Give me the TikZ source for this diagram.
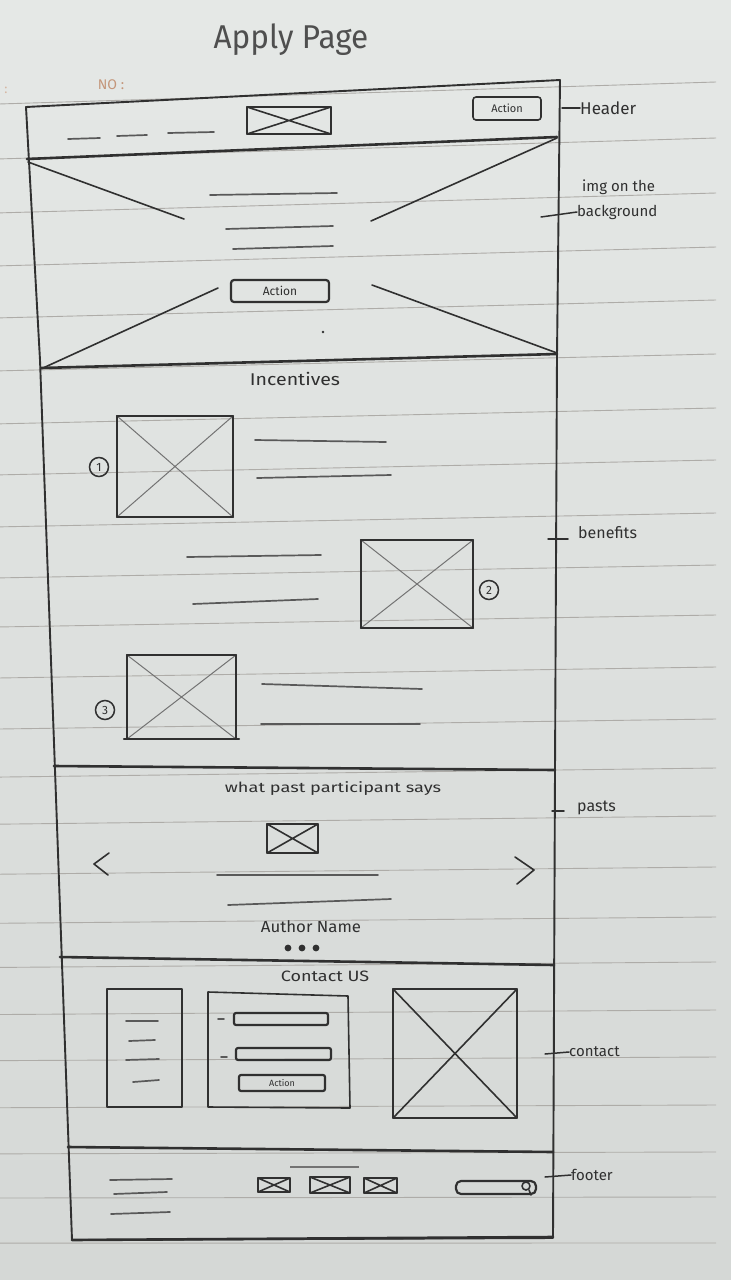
\documentclass[tikz,border=0pt]{standalone}
\usepackage{fontspec}
\setmainfont{Fira Sans}
\usepackage{graphicx}

\definecolor{paperTop}{RGB}{229,232,230}
\definecolor{paperBot}{RGB}{213,216,214}
\definecolor{pencil}{RGB}{48,48,48}
\definecolor{softpencil}{RGB}{115,115,115}
\definecolor{ruling}{RGB}{174,172,168}
\definecolor{notebrown}{RGB}{196,150,122}

\tikzset{
  frame/.style={draw=pencil, line width=1.9pt, line cap=round, line join=round},
  divider/.style={draw=pencil, line width=2.6pt, line cap=round},
  sketch/.style={draw=pencil, line width=1.6pt, line cap=round, line join=round},
  heavy/.style={draw=pencil, line width=2.2pt, line cap=round, line join=round},
  textline/.style={draw=pencil!80, line width=1.7pt, line cap=round},
  cross/.style={draw=softpencil, line width=1pt},
  rule/.style={draw=ruling, line width=0.9pt},
  hand/.style={text=pencil, inner sep=0pt, font=\fontsize{#1}{#1}\selectfont},
  numbered/.style={draw=pencil, circle, line width=1.5pt, minimum size=19pt,
                   inner sep=0pt, text=pencil, font=\fontsize{12}{12}\selectfont},
  labeltick/.style={draw=pencil, line width=1.5pt, line cap=round},
}

% wireframe image placeholder: box with a cross
\newcommand\wfimage[5]{%
  \draw[#5] (#1,#2) -- (#3,#4) (#1,#4) -- (#3,#2);
  \draw[sketch] (#1,#2) rectangle (#3,#4);}

\begin{document}
\begin{tikzpicture}[x=1pt,y=-1pt]
\useasboundingbox (0,0) rectangle (731,1280);

% notebook paper
\shade[top color=paperTop, bottom color=paperBot] (0,0) rectangle (731,1280);
\foreach \y in {82,138,193,247,300,354,408,460,513,565,615,667,719,768,816,867,917,962,1010,1057,1105,1152,1197,1243}{
  \pgfmathsetmacro\tilt{22*(1-(\y-80)/1170)}
  \draw[rule] (0,\y+\tilt) -- (716,\y);
}
\node[text=notebrown, inner sep=0pt, font=\fontsize{14}{14}\selectfont] (no) at (111,85) {NO :};
\node[text=notebrown!70, inner sep=0pt, font=\fontsize{13}{13}\selectfont] (colon) at (6,90) {:};

% title
\node[hand=30, text=pencil!85] (title) at (291,40) {\scalebox{1.05}[1.1]{Apply Page}};

% page outline
\draw[frame] (26,107) -- (560,80) -- (557,355) -- (555,770) -- (553,1238)
  -- (72,1240) -- (55,770) -- (40,360) -- cycle;

% section dividers
\draw[divider] (27,159) -- (557,137);
\draw[divider] (41,368) -- (557,354);
\draw[divider] (54,766) -- (555,770);
\draw[divider] (60,957) -- (554,965);
\draw[divider] (68,1147) -- (553,1152);
\draw[divider] (72,1240) -- (553,1237);

% ---- header
\draw[textline] (68,139) -- (100,138);
\draw[textline] (117,136) -- (147,135);
\draw[textline] (168,133) -- (214,132);
\wfimage{247}{107}{331}{134}{sketch}
\draw[sketch, rounded corners=3pt] (473,97) rectangle (541,120);
\node[hand=11] (hdrbtn) at (507,108.5) {Action};

% ---- hero image
\draw[sketch] (28,162) -- (184,219);
\draw[sketch] (557,138) -- (371,221);
\draw[sketch] (43,368) -- (218,288);
\draw[sketch] (372,285) -- (557,353);
\draw[textline] (210,195) -- (337,193);
\draw[textline] (226,229) -- (333,226);
\draw[textline] (233,249) -- (333,246);
\draw[heavy, rounded corners=3pt] (231,280) rectangle (329,302);
\node[hand=12] (herobtn) at (280,291) {Action};
\fill[pencil] (323,332) circle (1.3);

% ---- benefits
\node[hand=17] (incent) at (295,379) {\scalebox{1.15}[1]{Incentives}};

\wfimage{117}{416}{233}{517}{cross}
\draw[heavy] (117,416) -- (233,416) (117,517) -- (233,517);
\node[numbered] (n1) at (99,467) {1};
\draw[textline] (255,440) -- (386,442);
\draw[textline] (257,478) -- (391,475);

\draw[textline] (187,557) -- (321,555);
\draw[textline] (193,604) -- (318,599);
\wfimage{361}{540}{473}{628}{cross}
\draw[heavy] (361,540) -- (473,540) (361,628) -- (473,628);
\node[numbered] (n2) at (489,590) {2};

\wfimage{127}{655}{236}{739}{cross}
\draw[heavy] (127,655) -- (236,655) (124,739) -- (239,739);
\node[numbered] (n3) at (105,710) {3};
\draw[textline] (262,684) -- (422,689);
\draw[textline] (261,724) -- (420,724);

% ---- testimonials
\node[hand=14] (says) at (333,789) {\scalebox{1.3}[1]{what past participant says}};
\wfimage{267}{824}{318}{853}{sketch}
\draw[sketch] (109,853) -- (94,864) -- (108,875);
\draw[sketch] (515,857) -- (534,870) -- (517,884);
\draw[textline] (217,875) -- (378,875);
\draw[textline] (228,905) -- (391,899);
\node[hand=16] (author) at (311,927) {\scalebox{1.05}[1]{Author Name}};
\foreach \x in {288,302,316} \fill[pencil] (\x,948) circle (3.4);

% ---- contact
\node[hand=15] (contact) at (325,976) {\scalebox{1.2}[1]{Contact US}};
\draw[sketch] (107,989) rectangle (182,1107);
\draw[textline] (126,1021) -- (158,1021);
\draw[textline] (129,1041) -- (155,1040);
\draw[textline] (126,1060) -- (159,1059);
\draw[textline] (133,1082) -- (159,1080);
\draw[sketch] (208,992) -- (348,996) -- (350,1108) -- (208,1107) -- cycle;
\draw[textline] (218,1019) -- (224,1019);
\draw[textline] (221,1057) -- (227,1057);
\draw[heavy, rounded corners=2pt] (234,1013) rectangle (328,1025);
\draw[heavy, rounded corners=2pt] (236,1048) rectangle (331,1060);
\draw[heavy, rounded corners=2pt] (239,1075) rectangle (325,1091);
\node[hand=9] (formbtn) at (282,1083) {Action};
\wfimage{393}{989}{517}{1118}{sketch}

% ---- footer
\draw[textline] (110,1180) -- (172,1179);
\draw[textline] (114,1194) -- (167,1192);
\draw[textline] (111,1214) -- (170,1212);
\draw[draw=softpencil, line width=1.2pt] (290,1167) -- (359,1167);
\wfimage{258}{1178}{290}{1192}{sketch}
\wfimage{310}{1177}{350}{1193}{sketch}
\wfimage{364}{1178}{397}{1193}{sketch}
\draw[heavy, rounded corners=5pt] (456,1181) rectangle (536,1194);
\draw[sketch] (526,1186) circle (4);
\draw[sketch] (529,1190) -- (531,1195);

% ---- margin notes
\node[hand=17, anchor=west] (lhead) at (580,108) {Header};
\draw[labeltick] (562,108) -- (lhead.west);
\node[hand=15, anchor=west] (limg) at (582,187) {img on the};
\node[hand=15, anchor=west] (lbg) at (577,212) {background};
\draw[labeltick] (541,217) -- (lbg.west);
\node[hand=16, anchor=west] (lben) at (578,533) {benefits};
\draw[labeltick] (548,539) -- (568,539);
\node[hand=16, anchor=west] (lpast) at (577,808) {pasts};
\draw[labeltick] (552,811) -- (564,811);
\node[hand=15, anchor=west] (lcont) at (569,1052) {contact};
\draw[labeltick] (545,1054) -- (lcont.west);
\node[hand=15, anchor=west] (lfoot) at (571,1175) {footer};
\draw[labeltick] (545,1177) -- (lfoot.west);
\end{tikzpicture}
\end{document}
